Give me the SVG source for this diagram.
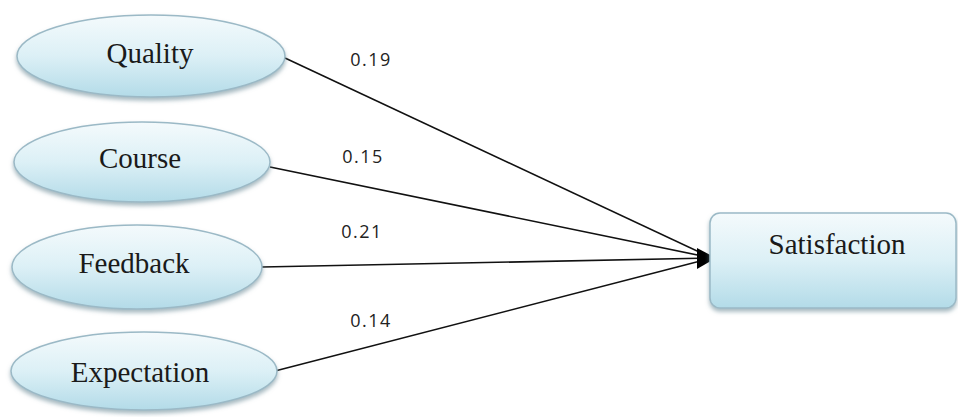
<svg xmlns="http://www.w3.org/2000/svg" width="958" height="417" viewBox="0 0 958 417">
<defs>
<linearGradient id="g" x1="0" y1="0" x2="0" y2="1">
<stop offset="0" stop-color="#f4fafc"/>
<stop offset="0.5" stop-color="#dcf0f6"/>
<stop offset="1" stop-color="#b3dbe8"/>
</linearGradient>
<filter id="sh" x="-10%" y="-10%" width="120%" height="130%">
<feDropShadow dx="0" dy="3" stdDeviation="2" flood-color="#6a8a96" flood-opacity="0.6"/>
</filter>
</defs>
<style>
.node{fill:url(#g);stroke:#9bb9c6;stroke-width:1.5;filter:url(#sh)}
.lbl{font-family:"Liberation Serif","Times New Roman",serif;font-size:29px;fill:#1a1a1a;text-anchor:middle}
.w{font-family:"Open Sans","Liberation Sans",sans-serif;font-size:18px;letter-spacing:1.5px;fill:#222;text-anchor:middle}
.c{stroke:#111;stroke-width:1.6;fill:none}
</style>
<rect width="958" height="417" fill="#fff"/>
<g id="connectors">
<line class="c" x1="285" y1="58" x2="712" y2="258"/>
<line class="c" x1="270" y1="167" x2="712" y2="258"/>
<line class="c" x1="262" y1="267" x2="712" y2="258"/>
<line class="c" x1="275" y1="371" x2="712" y2="258"/>
<path d="M697,248 L716,258 L697,269 z" fill="#000"/>
<text class="w" x="371" y="66">0.19</text>
<text class="w" x="363" y="163">0.15</text>
<text class="w" x="362" y="238">0.21</text>
<text class="w" x="371" y="327">0.14</text>
</g>
<g id="quality">
<ellipse class="node" cx="151" cy="56" rx="134" ry="41"/>
<text class="lbl" x="150" y="63">Quality</text>
</g>
<g id="course">
<ellipse class="node" cx="142" cy="162" rx="128" ry="40"/>
<text class="lbl" x="140" y="168">Course</text>
</g>
<g id="feedback">
<ellipse class="node" cx="137" cy="267" rx="125" ry="42"/>
<text class="lbl" x="134" y="273">Feedback</text>
</g>
<g id="expectation">
<ellipse class="node" cx="144" cy="371" rx="133" ry="39"/>
<text class="lbl" x="140" y="382">Expectation</text>
</g>
<g id="satisfaction">
<rect class="node" x="710" y="213" width="246" height="95" rx="10"/>
<text class="lbl" x="837" y="254">Satisfaction</text>
</g>
</svg>
